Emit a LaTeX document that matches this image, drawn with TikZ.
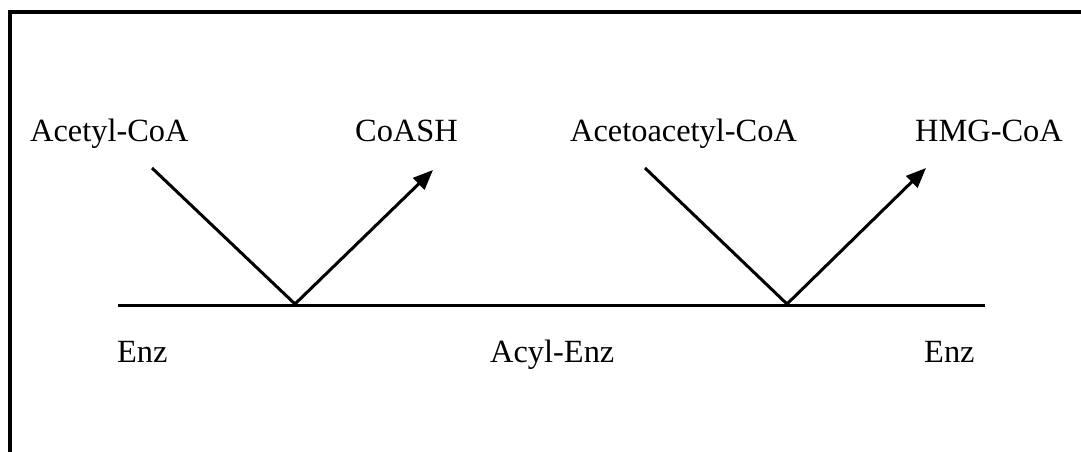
\documentclass[tikz,border=0pt]{standalone}
\usepackage{fontspec}
\setmainfont{Liberation Serif}
\usetikzlibrary{arrows.meta}
\begin{document}
\begin{tikzpicture}[x=1pt,y=-1pt,
  lbl/.style={anchor=base west,inner sep=0pt,font=\fontsize{32.4}{36}\selectfont},
  frame/.style={line width=3.2pt},
  arm/.style={line width=3pt},
  armarrow/.style={line width=3pt,-{Triangle[length=20pt,width=16pt]}}]
\useasboundingbox (0,0) rectangle (1081,452);
% frame
\coordinate (fbl) at (10,452);
\coordinate (ftl) at (10,12);
\coordinate (ftr) at (1081,12);
\draw[frame] (fbl) -- (ftl) -- (ftr);
% labels
\node[lbl] (acetyl) at (30,141) {Acetyl-CoA};
\node[lbl] (coash) at (355,141) {CoASH};
\node[lbl] (acetoacetyl) at (570,141) {Acetoacetyl-CoA};
\node[lbl] (hmg) at (915,141) {HMG-CoA};
\node[lbl] (enz1) at (117,362) {Enz};
\node[lbl] (acylenz) at (490,362) {Acyl-Enz};
\node[lbl] (enz2) at (924,362) {Enz};
% base line
\coordinate (lineL) at (118,305);
\coordinate (lineR) at (985,305);
\draw[arm] (lineL) -- (lineR);
% first V
\coordinate (a1) at (152,168);
\coordinate (v1) at (295,304);
\coordinate (t1) at (433,170);
\draw[arm] (a1) -- (v1);
\draw[armarrow] (v1) -- (t1);
% second V
\coordinate (a2) at (645,168);
\coordinate (v2) at (787,304);
\coordinate (t2) at (926,168);
\draw[arm] (a2) -- (v2);
\draw[armarrow] (v2) -- (t2);
\end{tikzpicture}
\end{document}
